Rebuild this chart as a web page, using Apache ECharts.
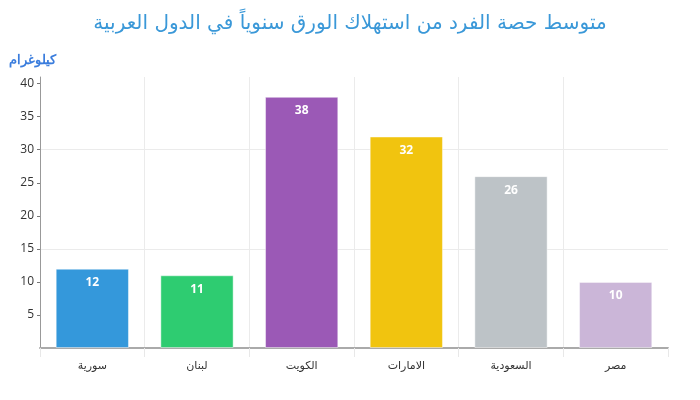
<!DOCTYPE html>
<html>
<head>
<meta charset="utf-8">
<script src="https://cdn.jsdelivr.net/npm/echarts@6/dist/echarts.min.js"></script>
<style>
html,body{margin:0;padding:0;background:#fff;}
#main{width:700px;height:400px;}
</style>
</head>
<body>
<div id="main"></div>
<script>
// البيانات
var countries = ['سورية', 'لبنان', 'الكويت', 'الامارات', 'السعودية', 'مصر'];
var values = [12, 11, 38, 32, 26, 10];
var barColors = ['#3498db', '#2ecc71', '#9b59b6', '#f1c40f', '#bdc3c7', '#cbb6d8'];

var chart = echarts.init(document.getElementById('main'));

var items = [];
for (var i = 0; i < values.length; i++) {
	items.push({ value: values[i], itemStyle: { color: barColors[i] } });
}

// خطوط الشبكة الافقية فقط عند 15 و 30
var hGrid = ['transparent', 'transparent', 'transparent', '#ebebeb', 'transparent', 'transparent', '#ebebeb', 'transparent', 'transparent', 'transparent'];
// الخطوط العمودية بين الفئات (بدون الخط الاخير)
var vGrid = ['#ebebeb', '#ebebeb', '#ebebeb', '#ebebeb', '#ebebeb', '#ebebeb', 'transparent'];

var option = {
	title: {
		text: 'متوسط حصة الفرد من استهلاك الورق سنوياً في الدول العربية',
		left: 'center',
		top: 9,
		textStyle: { color: '#3a98d8', fontSize: 20, fontWeight: 'normal', fontFamily: 'DejaVu Sans' }
	},
	grid: { left: 40, right: 32, top: 77, bottom: 52 },
	xAxis: {
		type: 'category',
		data: countries,
		axisLine: { lineStyle: { color: '#aaa', width: 2 } },
		axisTick: { show: true, length: 9, lineStyle: { color: '#e8e8e8' } },
		axisLabel: { color: '#333', fontSize: 11, margin: 13, fontFamily: 'DejaVu Sans' },
		splitLine: { show: true, lineStyle: { color: vGrid } }
	},
	yAxis: {
		type: 'value',
		min: 0,
		max: 41,
		interval: 5,
		name: 'كيلوغرام',
		nameLocation: 'end',
		nameGap: 10,
		nameTextStyle: { color: '#3b7ddd', fontSize: 13, fontWeight: 'bold', align: 'right', padding: [0, -16, 0, 0] },
		axisLine: { show: true, lineStyle: { color: '#999' } },
		axisTick: { show: true, length: 3, lineStyle: { color: '#777' } },
		axisLabel: { color: '#333', fontSize: 12, margin: 6, fontFamily: 'Open Sans', showMinLabel: false, showMaxLabel: false },
		splitLine: { lineStyle: { color: hGrid } }
	},
	series: [{
		type: 'bar',
		data: items,
		barWidth: '70%',
		itemStyle: { borderColor: 'rgba(255,255,255,0.45)', borderWidth: 1 },
		label: {
			show: true,
			position: 'insideTop',
			distance: 8,
			color: '#fff',
			fontWeight: 'bold',
			fontSize: 12,
			fontFamily: 'Open Sans'
		}
	}]
};
chart.setOption(option);
</script>
</body>
</html>
